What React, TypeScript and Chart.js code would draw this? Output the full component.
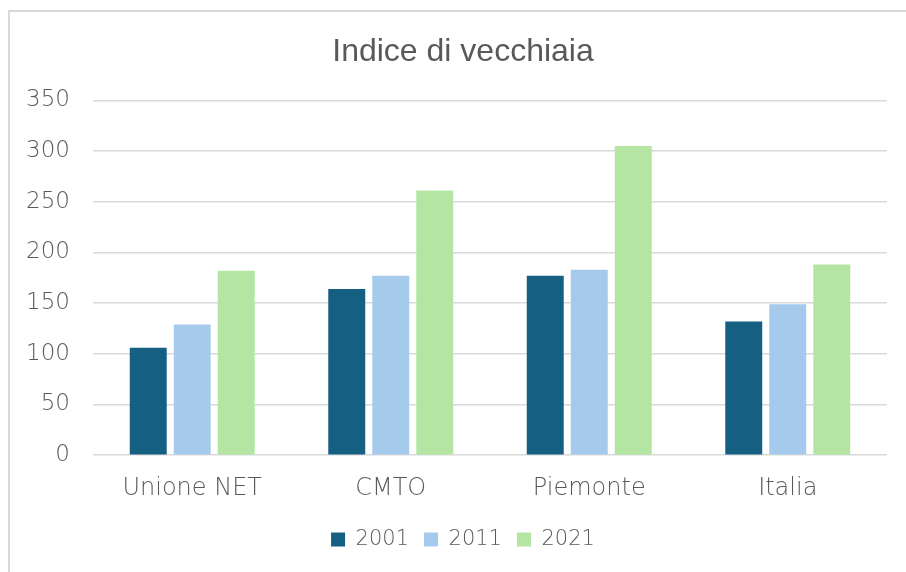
import React, { useEffect, useRef } from "react";
import { Chart, registerables } from "chart.js";

Chart.register(...registerables);

const categories = ["Unione NET", "CMTO", "Piemonte", "Italia"];
const years = ["2001", "2011", "2021"];
const values2001 = [106, 164, 177, 132];
const values2011 = [129, 177, 183, 149];
const values2021 = [182, 261, 305, 188];
const yTicks = [0, 50, 100, 150, 200, 250, 300, 350];
const colors = ["#156082", "#A6CAEC", "#B4E5A2"];

const TICK_FONT = "'DejaVu Sans', sans-serif";

export default function App() {
  const ref = useRef<HTMLCanvasElement | null>(null);

  useEffect(() => {
    if (!ref.current) return;
    const chart = new Chart(ref.current, {
      type: "bar",
      data: {
        labels: categories,
        datasets: [values2001, values2011, values2021].map((d, i) => ({
          label: years[i],
          data: d,
          backgroundColor: colors[i],
          borderWidth: 0,
          categoryPercentage: 0.665,
          barPercentage: 0.84,
          yAxisID: "y",
        })),
      },
      options: {
        animation: false,
        responsive: false,
        devicePixelRatio: 1,
        layout: { padding: { left: 0, right: 0, top: 0, bottom: 12 } },
        plugins: {
          title: {
            display: true,
            text: "Indice di vecchiaia",
            color: "#595959",
            font: { family: "'Liberation Sans', Arial, sans-serif", size: 32, weight: "normal" },
            padding: { top: 21, bottom: 29 },
          },
          legend: {
            position: "bottom",
            labels: {
              color: "#595959",
              font: { family: TICK_FONT, size: 21, weight: "200" },
              boxWidth: 14,
              boxHeight: 14,
              padding: 15,
            },
          },
          tooltip: { enabled: false },
        },
        scales: {
          x: {
            grid: { display: false },
            border: { display: false },
            ticks: {
              color: "#595959",
              font: { family: TICK_FONT, size: 24, weight: "200" },
              padding: 11,
            },
          },
          y: {
            min: 0,
            max: 350,
            position: "left",
            afterBuildTicks: (s: any) => {
              s.ticks = yTicks.map((v) => ({ value: v }));
            },
            afterFit: (s: any) => {
              s.width = 83;
            },
            grid: { color: "#d9d9d9", lineWidth: 1.5, drawTicks: false },
            border: { display: false },
            ticks: {
              color: "#595959",
              font: { family: TICK_FONT, size: 23, weight: "200" },
              padding: 23,
            },
          },
          yRight: {
            position: "right",
            display: true,
            min: 0,
            max: 350,
            grid: { display: false, drawTicks: false },
            border: { display: false },
            ticks: { display: false },
            afterFit: (s: any) => {
              s.width = 29;
            },
          },
        },
      },
    });
    return () => chart.destroy();
  }, []);

  return (
    <div
      style={{
        position: "fixed",
        left: 0,
        top: 0,
        width: 906,
        height: 572,
        overflow: "hidden",
        background: "#fff",
      }}
    >
      <div
        style={{
          position: "absolute",
          left: 8,
          top: 10,
          width: 1000,
          height: 700,
          borderLeft: "2px solid #d9d9d9",
          borderTop: "2px solid #d9d9d9",
          boxSizing: "border-box",
        }}
      >
        <canvas ref={ref} width={906} height={560} style={{ display: "block" }} />
      </div>
    </div>
  );
}
